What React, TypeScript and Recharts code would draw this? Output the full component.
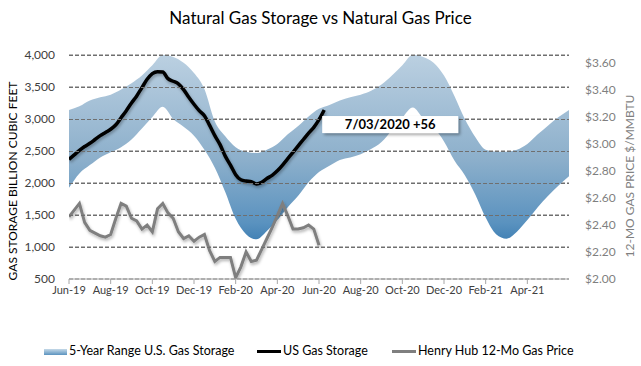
import React from "react";
import {
  ComposedChart,
  Area,
  Line,
  XAxis,
  YAxis,
  CartesianGrid,
} from "recharts";

// x = months since Jun-2019
const tickMonths = [0, 2, 4, 6, 8, 10, 12, 14, 16, 18, 20, 22];
const tickLabels = [
  "Jun-19", "Aug-19", "Oct-19", "Dec-19", "Feb-20", "Apr-20",
  "Jun-20", "Aug-20", "Oct-20", "Dec-20", "Feb-21", "Apr-21",
];

// 5-year range, half-month samples (0 .. 24)
const bandHigh = [
  3140, 3200, 3290, 3340, 3380, 3460, 3560, 3680, 3840, 4000, 3970, 3880, 3720,
  3470, 2960, 2730, 2560, 2490, 2470, 2520, 2610, 2760, 2890, 3040, 3160,
  3220, 3290, 3340, 3380, 3440, 3540, 3680, 3840, 4000, 3970, 3880, 3680,
  3360, 3000, 2720, 2520, 2490, 2490, 2520, 2610, 2760, 2900, 3030, 3140,
];
const bandLow = [
  1925, 2150, 2280, 2400, 2480, 2560, 2680, 2850, 3030, 3190, 3000, 2880, 2740,
  2520, 2240, 1860, 1440, 1200, 1120, 1250, 1420, 1620, 1800, 2010, 2170,
  2270, 2360, 2400, 2450, 2530, 2640, 2830, 3020, 3180, 3010, 2870, 2650,
  2350, 2120, 1820, 1460, 1200, 1130, 1240, 1420, 1620, 1800, 1960, 2105,
];

// US gas storage, quarter-month samples (0 .. 12.25)
const storage = [
  2370, 2440, 2510, 2570, 2620, 2680, 2740, 2790, 2840, 2910,
  3020, 3130, 3250, 3360, 3490, 3620, 3710, 3740, 3735, 3630,
  3590, 3550, 3460, 3340, 3230, 3130, 3050, 2900, 2740, 2600,
  2420, 2280, 2130, 2050, 2030, 2020, 1985, 2010, 2070, 2120,
  2190, 2280, 2380, 2480, 2580, 2680, 2780, 2870, 2990, 3140,
];

// Henry Hub 12-mo price, quarter-month samples (0 .. 12)
const price = [
  2.46, 2.51, 2.56, 2.42, 2.36, 2.34, 2.32, 2.31, 2.33, 2.45,
  2.56, 2.54, 2.45, 2.43, 2.37, 2.40, 2.35, 2.52, 2.56, 2.49,
  2.45, 2.35, 2.30, 2.32, 2.28, 2.31, 2.33, 2.21, 2.13, 2.16,
  2.16, 2.16, 2.01, 2.09, 2.20, 2.13, 2.14, 2.22, 2.30, 2.38,
  2.47, 2.56, 2.47, 2.37, 2.37, 2.38, 2.40, 2.37, 2.25,
];

const leftTicks = [500, 1000, 1500, 2000, 2500, 3000, 3500, 4000];
const rightTicks = [2.0, 2.2, 2.4, 2.6, 2.8, 3.0, 3.2, 3.4, 3.6];
const lastLabel = "7/03/2020  +56";

const bandData = bandHigh.map((hi, i) => ({ m: i * 0.5, range: [bandLow[i], hi] }));
const storageData = storage.map((v, i) => ({ m: i * 0.25, storage: v }));
const priceData = price.map((v, i) => ({ m: i * 0.25, price: v }));

const font = "Lato, 'Open Sans', sans-serif";
const W = 641;
const H = 366;
const leftW = 69;
const rightW = 72;

function StorageLabel(props: any) {
  const { x, y, index } = props;
  if (index !== storage.length - 1) return <g />;
  return (
    <g>
      <rect x={x - 2} y={y + 6} width={136} height={17} fill="#fff" filter="url(#boxShadow)" />
      <text
        x={x + 66}
        y={y + 19}
        textAnchor="middle"
        fontFamily={font}
        fontWeight={700}
        fontSize={13}
        fill="#000"
      >
        {lastLabel}
      </text>
    </g>
  );
}

// left tick label plus its dashed gridline across the plot
function LeftTick(props: any) {
  const { x, y, payload } = props;
  const yy = Math.round(Number(y)) + 0.5;
  return (
    <g>
      {payload.value !== 500 && (
        <path
          d={`M${leftW},${yy}L${W - rightW},${yy}`}
          stroke="#6f6f6f"
          strokeWidth={1}
          strokeDasharray="4 2"
          fill="none"
          shapeRendering="crispEdges"
        />
      )}
      <text
        x={x}
        y={y}
        dy="0.35em"
        textAnchor="end"
        fill="#404040"
        fontSize={12}
        fontFamily={font}
      >
        {payload.value.toLocaleString("en-US")}
      </text>
    </g>
  );
}

export default function App() {
  return (
    <div style={{ position: "absolute", left: 0, top: 0, width: W, height: H, background: "#fff", fontFamily: font }}>
      <div style={{ position: "absolute", top: 5, left: 0, width: W, textAlign: "center", fontSize: 17, lineHeight: "26px", color: "#000" }}>
        Natural Gas Storage vs Natural Gas Price
      </div>
      <ComposedChart
        width={W}
        height={H}
        data={bandData}
        margin={{ top: 55, right: 0, bottom: 57, left: 0 }}
      >
        <defs>
          <linearGradient id="bandFill" gradientUnits="userSpaceOnUse" x1="0" y1="55" x2="0" y2="265">
            <stop offset="0" stopColor="#bbd0e1" />
            <stop offset="0.5" stopColor="#8cafcb" />
            <stop offset="0.8" stopColor="#5a92bf" />
            <stop offset="1" stopColor="#1f69a6" />
          </linearGradient>
          <filter id="lineShadow" x="-10%" y="-10%" width="120%" height="130%">
            <feDropShadow dx="1" dy="2" stdDeviation="1.5" floodColor="#000" floodOpacity="0.3" />
          </filter>
          <filter id="boxShadow" x="-10%" y="-30%" width="120%" height="180%">
            <feDropShadow dx="2" dy="2" stdDeviation="1.5" floodColor="#000" floodOpacity="0.35" />
          </filter>
        </defs>
        <CartesianGrid
          yAxisId="left"
          vertical={false}
          stroke="#6f6f6f"
          strokeDasharray="4 2"
        />
        <XAxis
          type="number"
          dataKey="m"
          domain={[0, 24]}
          ticks={tickMonths}
          tickFormatter={(v: number) => tickLabels[tickMonths.indexOf(v)] ?? ""}
          allowDataOverflow
          stroke="#a6a6a6"
          tickSize={5}
          tickMargin={2}
          tick={{ fill: "#404040", fontSize: 11, fontFamily: font }}
          interval={0}
        />
        <YAxis
          yAxisId="left"
          width={leftW}
          domain={[500, 4000]}
          ticks={leftTicks}
          allowDataOverflow
          axisLine={false}
          tickLine={false}
          tickSize={0}
          tickMargin={14}
          tick={LeftTick}
          interval={0}
          label={{
            content: () => (
              <text
                x={12}
                y={181}
                transform="rotate(-90 12 181)"
                textAnchor="middle"
                dominantBaseline="central"
                fontFamily={font}
                fontSize={12}
                fill="#000"
              >
                GAS STORAGE BILLION CUBIC FEET
              </text>
            ),
          }}
        />
        <YAxis
          yAxisId="right"
          orientation="right"
          width={rightW}
          domain={[2.0, 3.66]}
          ticks={rightTicks}
          allowDataOverflow
          axisLine={false}
          tickLine={false}
          tickSize={0}
          tickMargin={16}
          tickFormatter={(v: number) => `$${v.toFixed(2)}`}
          tick={{ fill: "#7f7f7f", fontSize: 12, fontFamily: font }}
          interval={0}
          label={{
            content: () => (
              <text
                x={629}
                y={176}
                transform="rotate(-90 629 176)"
                textAnchor="middle"
                dominantBaseline="central"
                fontFamily={font}
                fontSize={12}
                fill="#7f7f7f"
              >
                12-MO GAS PRICE $/MMBTU
              </text>
            ),
          }}
        />
        <Area
          yAxisId="left"
          dataKey="range"
          type="monotone"
          fill="url(#bandFill)"
          fillOpacity={1}
          stroke="none"
          isAnimationActive={false}
          activeDot={false}
        />
        <Line
          yAxisId="right"
          data={priceData}
          dataKey="price"
          type="linear"
          stroke="#7f7f7f"
          strokeWidth={3}
          dot={false}
          activeDot={false}
          filter="url(#lineShadow)"
          isAnimationActive={false}
        />
        <Line
          yAxisId="left"
          data={storageData}
          dataKey="storage"
          type="monotone"
          stroke="#000"
          strokeWidth={3.5}
          dot={false}
          activeDot={false}
          filter="url(#lineShadow)"
          isAnimationActive={false}
          label={<StorageLabel />}
        />
      </ComposedChart>
      <div style={{ position: "absolute", top: 343, left: 0, width: W, height: 18, fontSize: 12.5, color: "#000" }}>
        <div style={{ position: "absolute", left: 44, top: 6, width: 23, height: 6, background: "linear-gradient(#c5d9e8, #5b93bf)" }} />
        <div style={{ position: "absolute", left: 69, top: 0, whiteSpace: "nowrap" }}>5-Year Range U.S. Gas Storage</div>
        <div style={{ position: "absolute", left: 257, top: 7, width: 24, height: 3, background: "#000" }} />
        <div style={{ position: "absolute", left: 283, top: 0, whiteSpace: "nowrap" }}>US Gas Storage</div>
        <div style={{ position: "absolute", left: 392, top: 7, width: 24, height: 3, background: "#7f7f7f" }} />
        <div style={{ position: "absolute", left: 418, top: 0, whiteSpace: "nowrap" }}>Henry Hub 12-Mo Gas Price</div>
      </div>
    </div>
  );
}
